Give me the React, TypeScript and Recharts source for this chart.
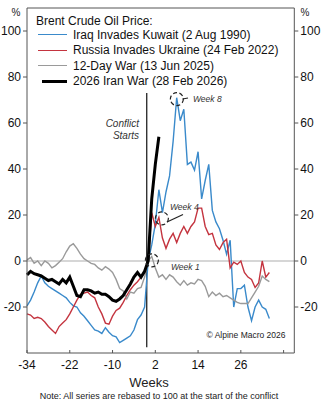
import React from 'react';
import { LineChart, Line, XAxis, YAxis, ReferenceLine, ReferenceDot, Legend } from 'recharts';

const FONT = '"Liberation Sans", Arial, Helvetica, sans-serif';

// week offsets from the start of each conflict
const weeks = Array.from({ length: 69 }, (_, i) => i - 34);

// index, rebased so that 0 = conflict start
const iraqKuwait = [
  -19.5, -17, -13.5, -9.5, -6.5, -9.5, -11, -12, -13, -14, -15, -16, -18, -19.5, -20, -22.5, -24,
  -26, -28, -30, -30.5, -31.5, -29, -31, -32.5, -33, -35.5, -34.5, -33.5, -32.5, -30, -25.5, -23.5, -20,
  0,
  7, 16, 31, 21, 30, 37, 52, 71, 61, 66, 42, 43, 39.5, 47.5, 27, 35, 42,
  22, 17, 14, 9, 3, 9, -20, -12, -12, -10.5, -20, -26, -20, -17, -20, -21, -25,
];

const russiaUkraine = [
  -23, -23.5, -25, -24.5, -25, -26.5, -28.5, -30, -31.5, -28.5, -27, -25.5, -23, -20, -17, -14.5, -14,
  -13.5, -15, -16, -20, -23, -27, -27.5, -24, -21.5, -20.5, -18, -15, -12.5, -10.5, -9, -7, -5,
  0,
  21, 15, 19, 10, 5.5, 9.5, 12, 8, 12, 15, 12, 15, 17, 23, 23, 15, 11.5,
  12, 7, 5, 8, 9.5, -3, -0.5, -1.5, 0, -5, -7, -8, -11.5, -9.5, 0, -7, -5,
];

const twelveDayWar = [
  0.5, 1.5, -1, 0, -2, 0, -1, -3, -2, -0.5, 1, 4, 6.5, 7.5, 5.5, 3, 1,
  0, -1, -1.5, -3, -4, -2.5, -3.5, -5, -8, -12, -13, -16.5, -13.5, -14, -12, -11.5, -7,
  0,
  2, -3, -7, -6, -8, -6, -7, -9, -10.5, -8.5, -10.5, -9.5, -10, -8, -8.5, -11, -15.5,
  -13.5, -15, -14, -15.5, -15, -16, -17, -18, -18.5, -18.5, -18.5, -16, -13.5, -11, -6.5, -8, -9,
];

const iranWar2026 = [
  -6, -4.5, -5.5, -6, -6.5, -7.5, -8.5, -8, -9, -10, -8, -9.5, -7, -11, -15, -15.5, -12.5,
  -12.5, -13, -14, -13.5, -14.5, -14.5, -15.5, -17, -17.5, -16.5, -15, -12.5, -10, -7, -5, -7, -4.5,
  0,
  27, 42, 54,
];

const xTicks = [-34, -22, -10, 2, 14, 26, 38];
const xLabels = ['-34', '-22', '-10', '2', '14', '26', ''];
const yTicks = [-20, 0, 20, 40, 60, 80, 100];

// both y axes share the same scale, so a series can sit on either one
const series = [
  { key: 'iraq', name: 'Iraq Invades Kuwait (2 Aug 1990)', color: '#3a8acb', width: 1.4, axis: 'right' },
  { key: 'russia', name: 'Russia Invades Ukraine (24 Feb 2022)', color: '#c4343f', width: 1.4, axis: 'left' },
  { key: 'twelve', name: '12-Day War (13 Jun 2025)', color: '#9a9a9a', width: 1.4, axis: 'left' },
  { key: 'iran', name: '2026 Iran War (28 Feb 2026)', color: '#000000', width: 3, axis: 'left' },
];

const data = weeks.map((week, i) => ({
  week,
  iraq: iraqKuwait[i],
  russia: russiaUkraine[i],
  twelve: twelveDayWar[i],
  iran: iranWar2026[i],
}));

const AXIS = '#555';

const WeekTick = (props: any) => {
  const { x, y, payload } = props;
  const idx = xTicks.indexOf(payload.value);
  return (
    <g>
      <line x1={x} x2={x} y1={y} y2={y - 3} stroke={AXIS} />
      <text x={x} y={y + 16} textAnchor="middle" fontSize={12} fill="#111" fontFamily={FONT}>
        {xLabels[idx]}
      </text>
    </g>
  );
};

const LegendBox = () => (
  <div style={{ fontFamily: FONT, fontSize: 12, color: '#111' }}>
    <div style={{ lineHeight: '12.4px', height: 12.4, whiteSpace: 'nowrap' }}>Brent Crude Oil Price:</div>
    {series.map((s) => (
      <div key={s.key} style={{ display: 'flex', alignItems: 'center', height: 15.6 }}>
        <span
          style={{
            display: 'inline-block',
            width: s.width === 3 ? 25 : 29,
            height: 0,
            borderTop: `${s.width === 3 ? 3 : 1.5}px solid ${s.color}`,
            marginLeft: s.width === 3 ? 6 : 2,
            marginRight: 6,
          }}
        />
        <span style={{ whiteSpace: 'nowrap' }}>{s.name}</span>
      </div>
    ))}
  </div>
);

const circleStyle = { r: 6.5, fill: 'none', stroke: '#222', strokeWidth: 1.2, strokeDasharray: '4 2.5' };

export default function App() {
  return (
    <div style={{ position: 'absolute', left: 0, top: 0, width: 324, height: 400, fontFamily: FONT, background: '#fff' }}>
      <LineChart width={324} height={400} data={data} margin={{ top: 8, right: 0, bottom: 0, left: 0 }}>
        <XAxis
          dataKey="week"
          type="number"
          domain={[-34, 41]}
          ticks={xTicks}
          interval={0}
          height={47}
          tickSize={0}
          tickMargin={0}
          tickLine={false}
          axisLine={{ stroke: AXIS }}
          tick={<WeekTick />}
        />
        <YAxis
          yAxisId="left"
          domain={[-40, 110]}
          ticks={yTicks}
          interval={0}
          width={27}
          tickSize={4}
          tickMargin={2}
          axisLine={{ stroke: AXIS }}
          tickLine={{ stroke: AXIS }}
          tick={{ fontSize: 12, fill: '#111', fontFamily: FONT }}
        />
        <YAxis
          yAxisId="right"
          orientation="right"
          domain={[-40, 110]}
          ticks={yTicks}
          interval={0}
          width={29.7}
          tickSize={4}
          tickMargin={2}
          axisLine={{ stroke: AXIS }}
          tickLine={{ stroke: AXIS }}
          tick={{ fontSize: 12, fill: '#111', fontFamily: FONT }}
        />
        <ReferenceLine yAxisId="left" y={0} stroke="#c8c8c8" strokeWidth={1.5} />
        <ReferenceLine yAxisId="left" y={110} stroke={AXIS} />
        <ReferenceLine
          yAxisId="left"
          segment={[{ x: -0.4, y: 73 }, { x: -0.4, y: -37.5 }]}
          stroke="#111"
          strokeWidth={1.2}
        />
        {series.map((s) => (
          <Line
            key={s.key}
            yAxisId={s.axis}
            type="linear"
            dataKey={s.key}
            name={s.name}
            stroke={s.color}
            strokeWidth={s.width}
            dot={false}
            activeDot={false}
            isAnimationActive={false}
          />
        ))}
        <ReferenceDot yAxisId="left" x={8.05} y={70.4} {...circleStyle} />
        <ReferenceDot yAxisId="left" x={3.84} y={18.5} {...circleStyle} />
        <ReferenceDot yAxisId="left" x={1.04} y={0.3} {...circleStyle} />
        <Legend
          layout="horizontal"
          verticalAlign="middle"
          align="center"
          wrapperStyle={{ left: 36, top: 14.5, width: 260, height: 75 }}
          content={<LegendBox />}
        />
      </LineChart>
      <svg
        width={324}
        height={400}
        style={{ position: 'absolute', left: 0, top: 0, pointerEvents: 'none' }}
        fontFamily={FONT}
      >
        <text x={16} y={15.5} fontSize={10} textAnchor="middle" fill="#222">%</text>
        <text x={305} y={15.5} fontSize={10} textAnchor="middle" fill="#222">%</text>
        <g fontStyle="italic" fill="#333">
          <text x={139} y={126.5} fontSize={10} textAnchor="end">Conflict</text>
          <text x={139} y={138.5} fontSize={10} textAnchor="end">Starts</text>
          <text x={193} y={102} fontSize={8.5}>Week 8</text>
          <text x={170} y={210} fontSize={8.5}>Week 4</text>
          <text x={171} y={270} fontSize={8.5}>Week 1</text>
        </g>
        <line x1={182.5} y1={99} x2={188} y2={98} stroke="#222" strokeWidth={1.2} />
        <line x1={167} y1={222} x2={183} y2={214.5} stroke="#222" strokeWidth={1.2} />
        <text x={206.5} y={338} fontSize={8.5} fill="#222">© Alpine Macro 2026</text>
        <text x={149} y={387} fontSize={13} textAnchor="middle" fill="#222">Weeks</text>
        <text x={159} y={399} fontSize={9} textAnchor="middle" fill="#222">
          Note: All series are rebased to 100 at the start of the conflict
        </text>
      </svg>
    </div>
  );
}
